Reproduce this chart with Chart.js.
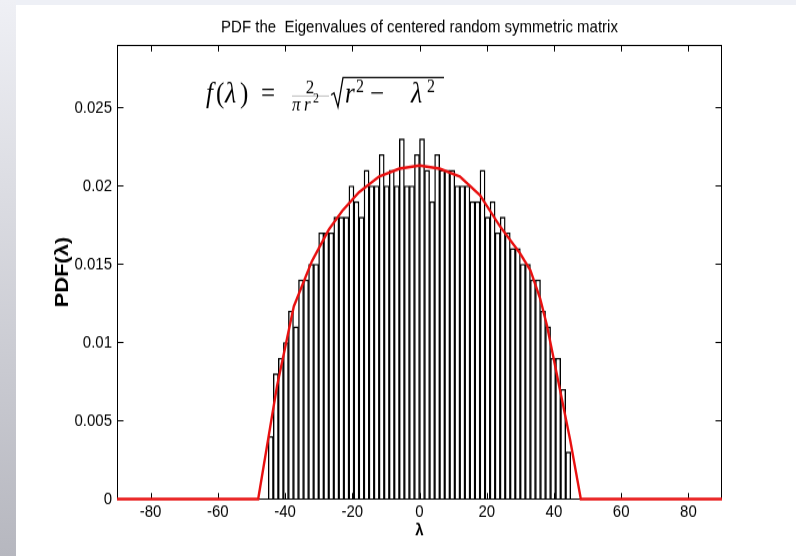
<!DOCTYPE html>
<html>
<head>
<meta charset="utf-8">
<script src="https://cdn.jsdelivr.net/npm/chart.js@4.4.0/dist/chart.umd.min.js"></script>
<style>
  html, body { margin: 0; padding: 0; background: #fff; }
  body { width: 796px; height: 556px; position: relative; overflow: hidden; }
  #edgeTop { position: absolute; left: 0; top: 0; width: 796px; height: 5px; background: #eef0f6; }
  #edgeLeft { position: absolute; left: 0; top: 0; width: 16px; height: 556px; background: linear-gradient(#eff0f5, #b6b7bf); }
  #pdfChart { position: absolute; left: 0; top: 0; transform-origin: 0 0; }
</style>
</head>
<body>
<div id="edgeTop"></div>
<div id="edgeLeft"></div>
<canvas id="pdfChart"></canvas>
<script>
// histogram of eigenvalues (bin centres, density per bin)
const binCenters = [
  -44.25, -42.75, -41.25, -39.75, -38.25, -36.75, -35.25, -33.75, -32.25, -30.75,
  -29.25, -27.75, -26.25, -24.75, -23.25, -21.75, -20.25, -18.75, -17.25, -15.75,
  -14.25, -12.75, -11.25, -9.75, -8.25, -6.75, -5.25, -3.75, -2.25, -0.75,
  0.75, 2.25, 3.75, 5.25, 6.75, 8.25, 9.75, 11.25, 12.75, 14.25,
  15.75, 17.25, 18.75, 20.25, 21.75, 23.25, 24.75, 26.25, 27.75, 29.25,
  30.75, 32.25, 33.75, 35.25, 36.75, 38.25, 39.75, 41.25, 42.75, 44.25
];
const binDensity = [
  0.004, 0.008, 0.009, 0.010, 0.012, 0.011, 0.014, 0.014, 0.015, 0.015,
  0.017, 0.017, 0.017, 0.018, 0.018, 0.018, 0.020, 0.019, 0.018, 0.021,
  0.020, 0.020, 0.022, 0.020, 0.021, 0.020, 0.023, 0.020, 0.020, 0.022,
  0.023, 0.021, 0.019, 0.022, 0.021, 0.021, 0.021, 0.020, 0.020, 0.020,
  0.019, 0.019, 0.021, 0.018, 0.019, 0.017, 0.018, 0.017, 0.016, 0.016,
  0.015, 0.015, 0.014, 0.014, 0.012, 0.011, 0.009, 0.009, 0.007, 0.003
];

// semicircle law, sampled points of the red curve
const curveLambda = [-90, -48, -42.4, -37.4, -32, -27, -23, -18, -12, -6, 0, 6, 12, 18, 24, 29.9, 33, 35.9, 37.9, 44.8, 48, 90];
const curvePdf = [0, 0, 0.0072, 0.0123, 0.0152, 0.0172, 0.0184, 0.0196, 0.0206, 0.0211, 0.0213, 0.0211, 0.0206, 0.0194, 0.0174, 0.0157, 0.0146, 0.0128, 0.0111, 0.0038, 0, 0];

const xTickValues = [-80, -60, -40, -20, 0, 20, 40, 60, 80];
const yTickValues = [0, 0.005, 0.01, 0.015, 0.02, 0.025];
const yTickLabels = ['0', '0.005', '0.01', '0.015', '0.02', '0.025'];

// the figure is drawn squashed and stretched back vertically
const K = 1.15;
const W = 796, H = 556;
const canvas = document.getElementById('pdfChart');
canvas.width = W;
canvas.height = Math.round(H / K);
const ky = H / canvas.height;
canvas.style.transform = 'scaleY(' + ky + ')';
const Y = v => v / ky;

Chart.defaults.font.family = '"Liberation Sans", Arial, sans-serif';
Chart.defaults.color = '#000';

// box with inward ticks on all four sides
const boxTicks = {
  id: 'boxTicks',
  afterDatasetDraw(chart, args) {
    if (args.index !== 0) return;
    const {ctx, chartArea: a, scales} = chart;
    const L = Math.round(a.left) + 0.5, R = Math.round(a.right) - 0.5;
    const T = Math.round(a.top) + 0.5, B = Math.round(a.bottom) + 0.5;
    ctx.save();
    ctx.strokeStyle = '#000';
    ctx.lineWidth = 1;
    ctx.strokeRect(L, T, R - L, B - T);
    ctx.beginPath();
    const tl = 6;
    xTickValues.forEach(v => {
      const px = Math.round(scales.x.getPixelForValue(v)) + 0.5;
      ctx.moveTo(px, B); ctx.lineTo(px, B - Y(tl));
      ctx.moveTo(px, T); ctx.lineTo(px, T + Y(tl));
    });
    yTickValues.forEach(v => {
      const py = Math.round(scales.y.getPixelForValue(v)) + 0.5;
      ctx.moveTo(L, py); ctx.lineTo(L + tl, py);
      ctx.moveTo(R, py); ctx.lineTo(R - tl, py);
    });
    ctx.stroke();
    ctx.restore();
  }
};

// f(λ) = 2/(π r²) √(r² − λ²)
const formula = {
  id: 'formula',
  afterDraw(chart) {
    const ctx = chart.ctx;
    const serif = '"Liberation Serif", "DejaVu Serif", serif';
    const base = Y(102);
    const sup = Y(92);
    ctx.save();
    ctx.fillStyle = '#000';
    ctx.strokeStyle = '#000';
    ctx.textBaseline = 'alphabetic';
    const put = (t, x, y, size, style) => {
      ctx.font = (style || 'normal') + ' ' + size + 'px ' + serif;
      ctx.fillText(t, x, y);
    };
    put('f', 206, base, 25, 'italic');
    put('(', 216, base, 25);
    put('λ', 225, base, 26, 'italic');
    put(')', 240, base, 25);
    put('=', 261, base, 25);
    // fraction
    ctx.textAlign = 'center';
    put('2', 310, Y(93), 17);
    ctx.textAlign = 'left';
    ctx.strokeStyle = 'rgba(0,0,0,0.45)';
    ctx.lineWidth = 0.6;
    ctx.beginPath();
    ctx.moveTo(292, Y(96)); ctx.lineTo(329, Y(96));
    ctx.stroke();
    put('π', 292, Y(110), 17, 'italic');
    put('r', 304, Y(110), 17, 'italic');
    put('2', 313, Y(103), 12);
    // radical
    ctx.strokeStyle = '#000';
    ctx.lineWidth = 1.3;
    ctx.beginPath();
    ctx.moveTo(331, Y(95)); ctx.lineTo(334, Y(93));
    ctx.lineTo(338, Y(107)); ctx.lineTo(343, Y(77.5));
    ctx.lineTo(444, Y(77.5));
    ctx.stroke();
    put('r', 345, base, 25, 'italic');
    put('2', 356, sup, 16);
    put('−', 370, base, 25);
    put('λ', 411, base, 26, 'italic');
    put('2', 427, sup, 16);
    ctx.restore();
  }
};

const chart = new Chart(canvas, {
  type: 'bar',
  data: {
    datasets: [{
      type: 'bar',
      data: binCenters.map((c, i) => ({x: c, y: binDensity[i]})),
      backgroundColor: '#ffffff',
      borderColor: '#000000',
      borderWidth: 1.4,
      barPercentage: 1,
      categoryPercentage: 1,
      order: 2
    }, {
      type: 'line',
      data: curveLambda.map((l, i) => ({x: l, y: curvePdf[i]})),
      borderColor: 'rgb(232, 16, 16)',
      borderWidth: 2.4,
      pointRadius: 0,
      tension: 0,
      clip: false,
      order: 1
    }]
  },
  options: {
    responsive: false,
    devicePixelRatio: 1,
    animation: false,
    layout: { padding: { left: 0, right: 74, top: 0, bottom: 0 } },
    plugins: {
      legend: { display: false },
      tooltip: { enabled: false },
      title: {
        display: true,
        fullSize: false,
        text: 'PDF the  Eigenvalues of centered random symmetric matrix',
        font: { size: 15, weight: 'normal' },
        color: '#000',
        padding: { top: Y(27) - 9, bottom: Y(45) - Y(27) - 9 }
      }
    },
    scales: {
      x: {
        type: 'linear',
        min: -90,
        max: 90,
        offset: false,
        grid: { display: false, drawTicks: false, offset: false },
        border: { display: false },
        afterBuildTicks: s => { s.ticks = xTickValues.map(v => ({value: v})); },
        afterFit: s => { s.height = Y(556 - 499); },
        ticks: { font: { size: 15 }, padding: 2, maxRotation: 0, callback: v => String(v) },
        title: { display: true, text: 'λ', font: { size: 15, weight: 'bold' }, padding: { top: 0, bottom: canvas.height - Y(530) - 9 } }
      },
      y: {
        min: 0,
        max: 0.029,
        grid: { display: false, drawTicks: false },
        border: { display: false },
        afterBuildTicks: s => { s.ticks = yTickValues.map(v => ({value: v})); },
        afterFit: s => { s.width = 117; },
        ticks: { font: { size: 15 }, padding: 5, callback: (v) => yTickLabels[yTickValues.indexOf(v)] },
        title: { display: true, text: 'PDF(λ)', font: { size: 19, weight: 'bold' }, padding: { top: 51, bottom: 0 } }
      }
    }
  },
  plugins: [boxTicks, formula]
});
</script>
</body>
</html>
